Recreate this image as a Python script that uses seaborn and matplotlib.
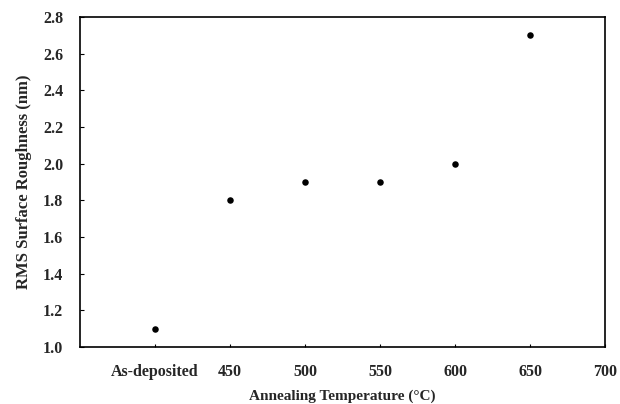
import numpy as np
import pandas as pd
import seaborn as sns
import matplotlib
matplotlib.use("Agg")
import matplotlib.pyplot as plt

# data
temp_labels = ["As-deposited", "450", "500", "550", "600", "650", "700"]
roughness = [1.1, 1.8, 1.9, 1.9, 2.0, 2.7]

df = pd.DataFrame({
    "position": np.arange(1, len(roughness) + 1),
    "roughness": roughness,
})

sns.set_theme(style="white")
plt.rcParams["font.family"] = ["Liberation Serif", "DejaVu Serif"]
plt.rcParams["font.weight"] = "bold"

fig = plt.figure(figsize=(6.2, 4.04), dpi=100)
ax = fig.add_axes([0.129, 0.141, 0.847, 0.817])

sns.scatterplot(data=df, x="position", y="roughness", ax=ax,
                color="black", s=22, edgecolor="black", linewidth=0)

ax.set_xlim(0, len(temp_labels))
ax.set_ylim(1.0, 2.8)
ax.set_xticks(np.arange(1, len(temp_labels) + 1))
ax.set_xticklabels(temp_labels, fontsize=11.5, fontweight="bold")
ax.set_yticks(np.arange(1.0, 2.81, 0.2))
ax.set_yticklabels([f"{v:.1f}" for v in np.arange(1.0, 2.81, 0.2)],
                   fontsize=11.5, fontweight="bold")
ax.tick_params(axis="y", direction="in", length=3, width=0.8, pad=12,
               left=True, color="black")
ax.tick_params(axis="x", direction="in", length=2, width=0.8, pad=12,
               bottom=True, color="black")

for side in ax.spines.values():
    side.set_color("black")
    side.set_linewidth(1.2)

ax.set_xlabel("Annealing Temperature (°C)", fontsize=11, fontweight="bold",
              labelpad=7)
ax.set_ylabel("RMS Surface Roughness (nm)", fontsize=12, fontweight="bold",
              labelpad=8)

fig.savefig("out.png", dpi=100)
